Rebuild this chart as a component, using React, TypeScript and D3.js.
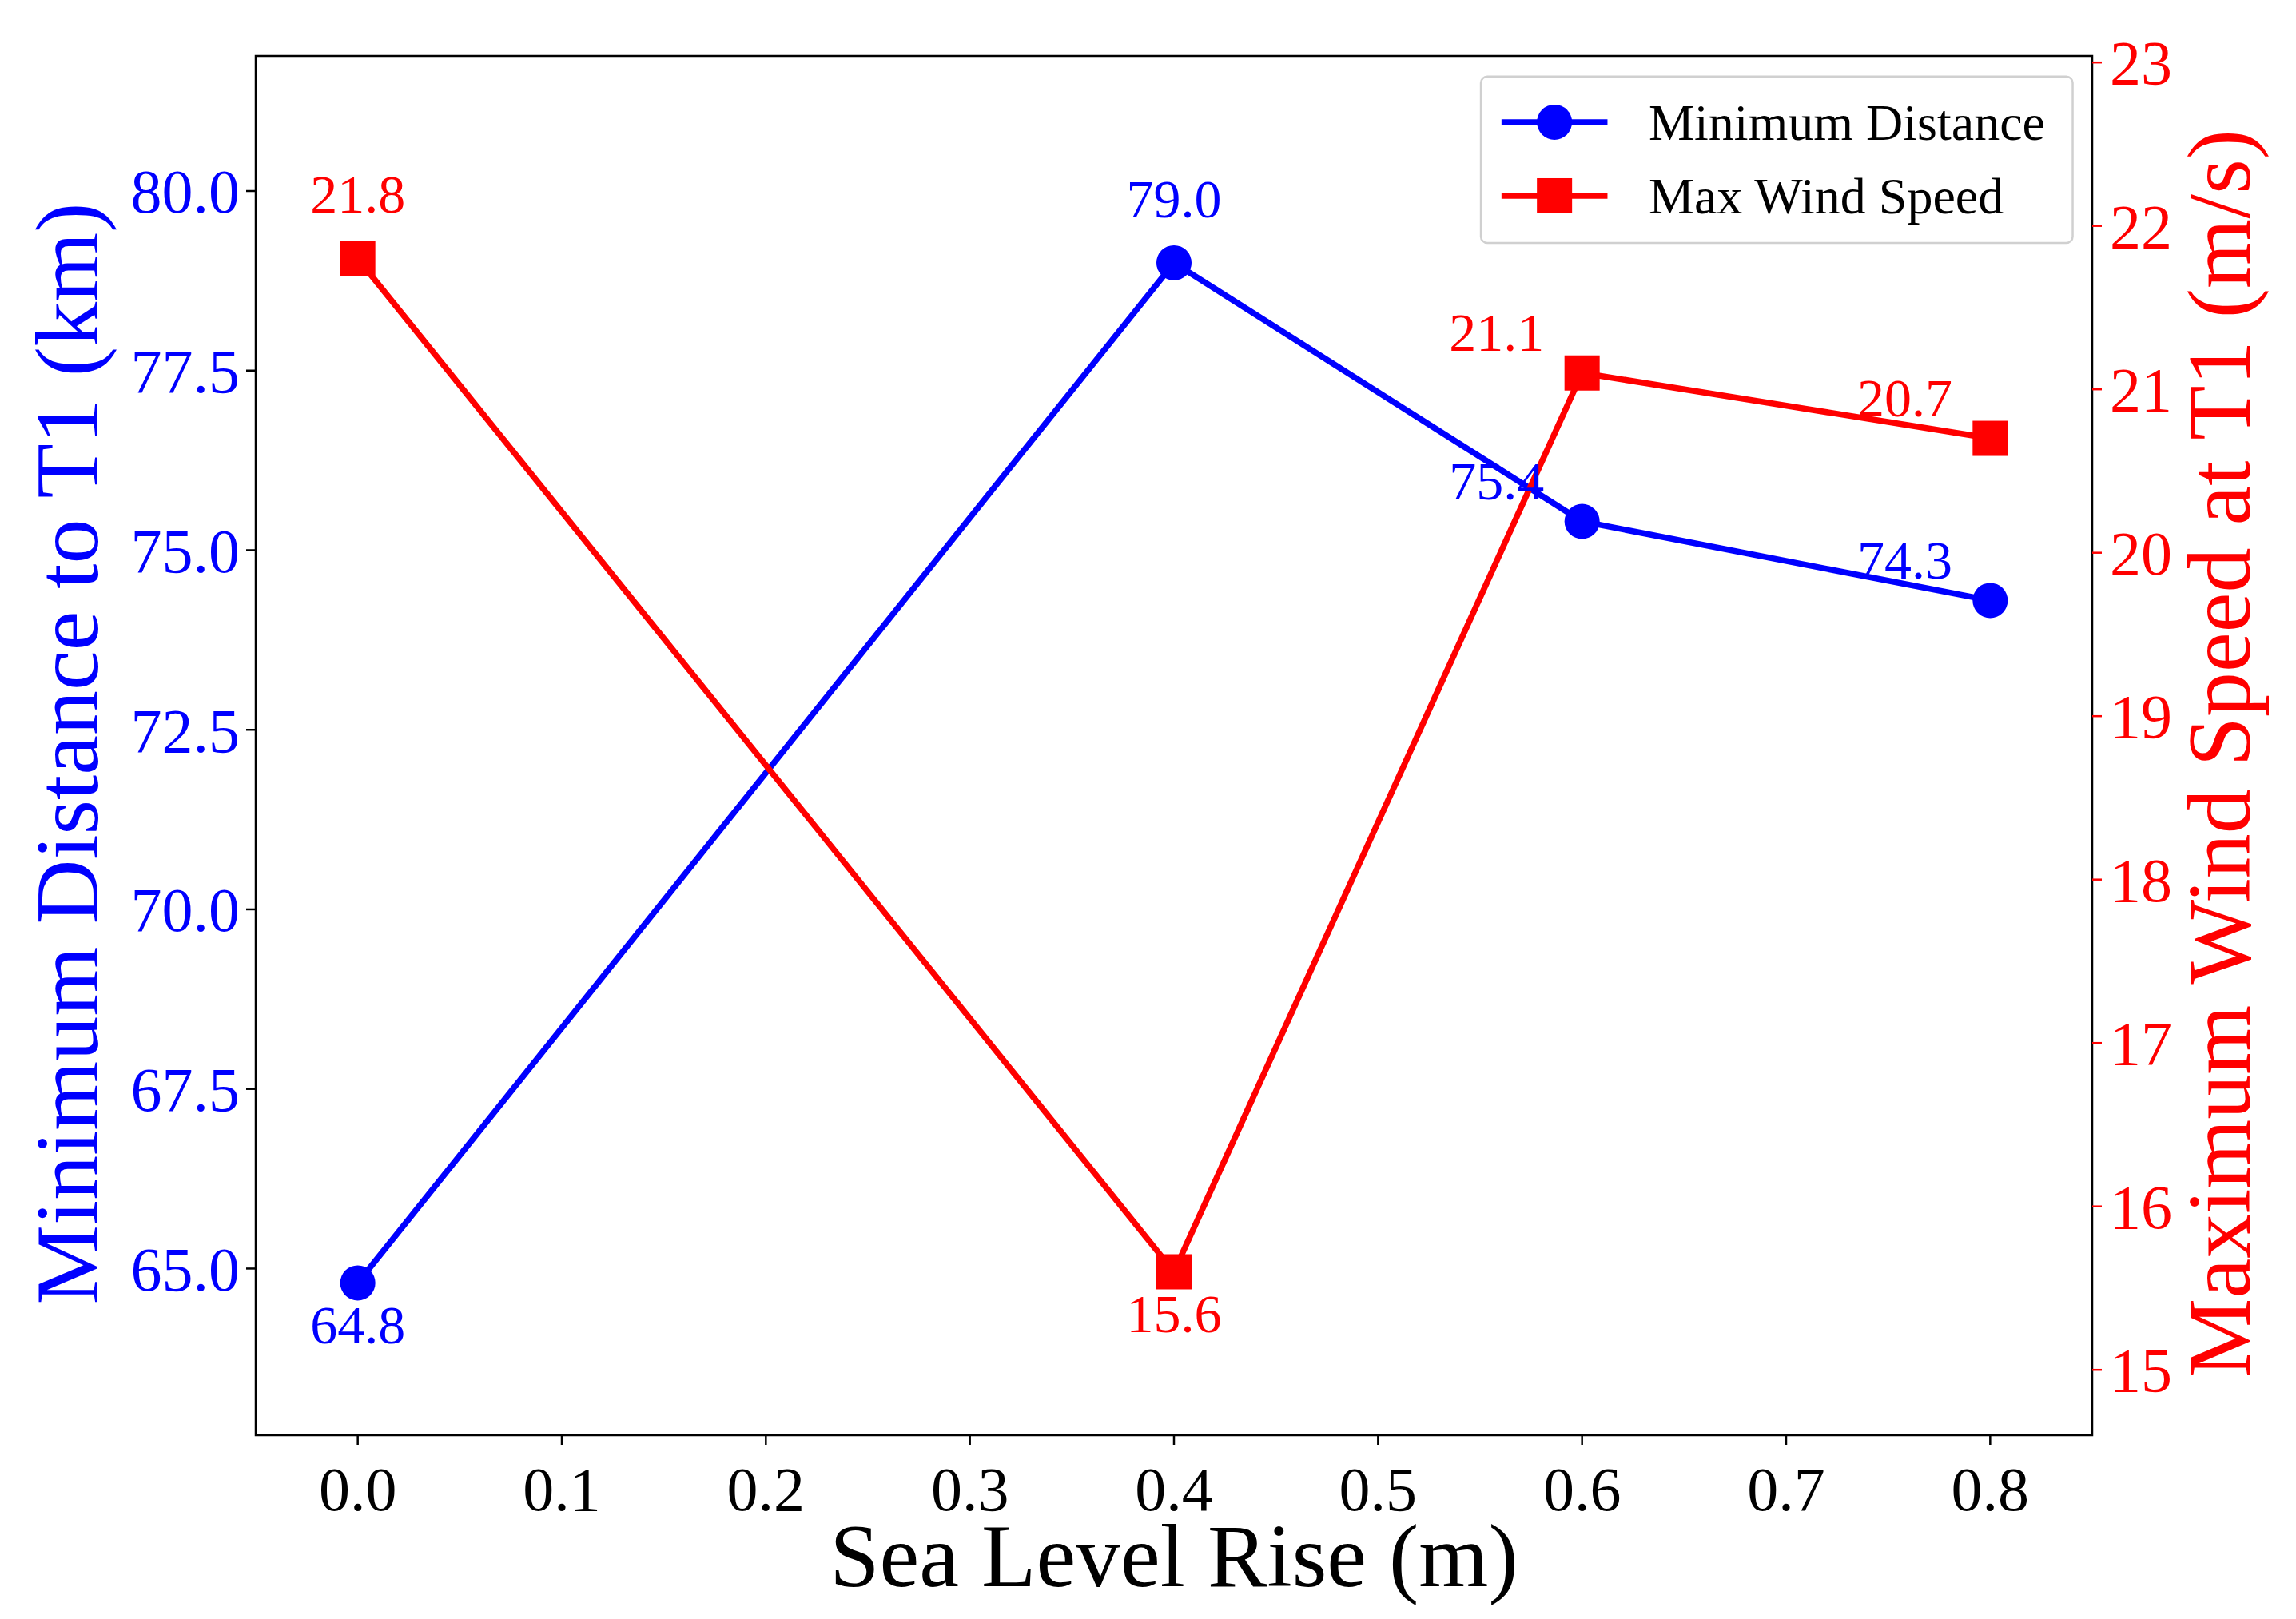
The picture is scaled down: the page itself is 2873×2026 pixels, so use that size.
import React from 'react';
import * as d3 from 'd3';

const seaLevel = [0.0, 0.4, 0.6, 0.8];
const minDistance = [64.8, 79.0, 75.4, 74.3];
const maxWind = [21.8, 15.6, 21.1, 20.7];
const xTicks = [0, 0.1, 0.2, 0.3, 0.4, 0.5, 0.6, 0.7, 0.8];
const leftTicks = [65, 67.5, 70, 72.5, 75, 77.5, 80];
const rightTicks = [15, 16, 17, 18, 19, 20, 21, 22, 23];
// label offset style per point: 'up', 'down', 'left'
const distPlace = ['down', 'up', 'left', 'left'];
const windPlace = ['up', 'down', 'left', 'left'];

const W = 2873, H = 2026;
const k = 1.842;
const m = { left: 320, right: 2618, top: 70, bottom: 1796 };
const FONT = '"Liberation Serif", "Times New Roman", serif';
const BLUE = '#0000ff', RED = '#ff0000';

const App: React.FC = () => {
  const x = d3.scaleLinear().domain([-0.05, 0.85]).range([m.left, m.right]);
  const yL = d3.scaleLinear().domain([62.68, 81.88]).range([m.bottom, m.top]);
  const yR = d3.scaleLinear().domain([14.6, 23.04]).range([m.bottom, m.top]);

  const lineL = d3.line<number>().x((d, i) => x(seaLevel[i])).y(d => yL(d));
  const lineR = d3.line<number>().x((d, i) => x(seaLevel[i])).y(d => yR(d));

  const off = (p: string) =>
    p === 'up' ? [0, -44 * k] : p === 'down' ? [0, 28 * k] : [-58 * k, -28 * k];

  const ms = 22;
  return (
    <svg width={W} height={H} style={{ position: 'absolute', left: 0, top: 0, background: '#fff' }} fontFamily={FONT}>
      <rect x={m.left} y={m.top} width={m.right - m.left} height={m.bottom - m.top} fill="none" stroke="#000" strokeWidth={2.5} />
      {xTicks.map(t => (
        <g key={t}>
          <line x1={x(t)} x2={x(t)} y1={m.bottom} y2={m.bottom + 12} stroke="#000" strokeWidth={2.5} />
          <text x={x(t)} y={m.bottom + 94} fontSize={78} textAnchor="middle">{t.toFixed(1)}</text>
        </g>
      ))}
      {leftTicks.map(t => (
        <g key={t}>
          <line x1={m.left - 12} x2={m.left} y1={yL(t)} y2={yL(t)} stroke="#000" strokeWidth={2.5} />
          <text x={m.left - 20} y={yL(t)} dy="0.35em" fontSize={78} textAnchor="end" fill={BLUE}>{t.toFixed(1)}</text>
        </g>
      ))}
      {rightTicks.map(t => (
        <g key={t}>
          <line x1={m.right} x2={m.right + 12} y1={yR(t)} y2={yR(t)} stroke={RED} strokeWidth={2.5} />
          <text x={m.right + 22} y={yR(t)} dy="0.35em" fontSize={78} fill={RED}>{t}</text>
        </g>
      ))}
      <text x={(m.left + m.right) / 2} y={1985} fontSize={112} textAnchor="middle">Sea Level Rise (m)</text>
      <text transform={`translate(122,${(m.top + m.bottom) / 2 + 10}) rotate(-90)`} fontSize={112} textAnchor="middle" fill={BLUE}>Minimum Distance to T1 (km)</text>
      <text transform={`translate(2815,${(m.top + m.bottom) / 2 + 10}) rotate(-90)`} fontSize={112} textAnchor="middle" fill={RED}>Maximum Wind Speed at T1 (m/s)</text>

      <path d={lineL(minDistance) || ''} fill="none" stroke={BLUE} strokeWidth={7.5} />
      <path d={lineR(maxWind) || ''} fill="none" stroke={RED} strokeWidth={7.5} />
      {minDistance.map((v, i) => <circle key={i} cx={x(seaLevel[i])} cy={yL(v)} r={ms} fill={BLUE} />)}
      {maxWind.map((v, i) => <rect key={i} x={x(seaLevel[i]) - ms} y={yR(v) - ms} width={ms * 2} height={ms * 2} fill={RED} />)}
      {minDistance.map((v, i) => {
        const [dx, dy] = off(distPlace[i]);
        return <text key={i} x={x(seaLevel[i]) + dx} y={yL(v) + dy} dy="0.35em" fontSize={68} textAnchor="middle" fill={BLUE}>{v.toFixed(1)}</text>;
      })}
      {maxWind.map((v, i) => {
        const [dx, dy] = off(windPlace[i]);
        return <text key={i} x={x(seaLevel[i]) + dx} y={yR(v) + dy} dy="0.35em" fontSize={68} textAnchor="middle" fill={RED}>{v.toFixed(1)}</text>;
      })}

      <g>
        <rect x={1006 * k} y={52 * k} width={402 * k} height={113 * k} rx={8} fill="#fff" fillOpacity={0.8} stroke="#d0d0d0" strokeWidth={2.5} />
        <line x1={1020 * k} x2={1092 * k} y1={83 * k} y2={83 * k} stroke={BLUE} strokeWidth={7.5} />
        <circle cx={1056 * k} cy={83 * k} r={ms} fill={BLUE} />
        <text x={1120 * k} y={83 * k} dy="0.35em" fontSize={64}>Minimum Distance</text>
        <line x1={1020 * k} x2={1092 * k} y1={133 * k} y2={133 * k} stroke={RED} strokeWidth={7.5} />
        <rect x={1056 * k - ms} y={133 * k - ms} width={ms * 2} height={ms * 2} fill={RED} />
        <text x={1120 * k} y={133 * k} dy="0.35em" fontSize={64}>Max Wind Speed</text>
      </g>
    </svg>
  );
};

export default App;
